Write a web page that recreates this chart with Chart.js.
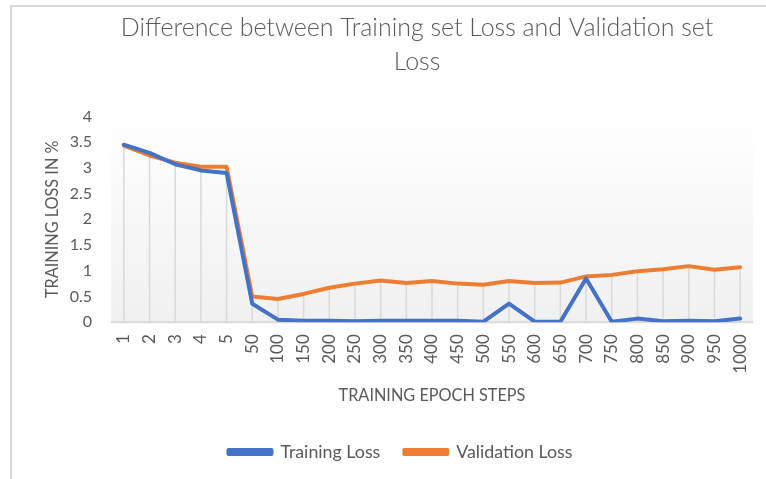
<!DOCTYPE html>
<html><head><meta charset="utf-8">
<script src="https://cdn.jsdelivr.net/npm/chart.js@4/dist/chart.umd.min.js"></script>
<style>
html,body{margin:0;padding:0;background:#fff;}
#wrap{position:relative;width:766px;height:479px;overflow:hidden;}
#frame{position:absolute;left:10px;top:5px;width:800px;height:500px;border-left:2px solid #d9d9d9;border-top:2px solid #d9d9d9;pointer-events:none;}
</style></head><body>
<div id="wrap"><canvas id="c" width="766" height="479"></canvas><div id="frame"></div></div>
<script>
const categories = ['1','2','3','4','5','50','100','150','200','250','300','350','400','450','500','550','600','650','700','750','800','850','900','950','1000'];
const trainingLoss = [3.45,3.29,3.07,2.95,2.90,0.36,0.05,0.03,0.03,0.02,0.03,0.03,0.03,0.03,0.01,0.36,0.01,0.01,0.85,0.01,0.07,0.02,0.03,0.02,0.07];
const validationLoss = [3.43,3.24,3.10,3.02,3.02,0.50,0.45,0.55,0.67,0.75,0.81,0.76,0.80,0.75,0.73,0.80,0.76,0.77,0.89,0.92,0.99,1.03,1.09,1.02,1.07];
const titleLines = ['Difference between Training set Loss and Validation set', 'Loss'];
const yTitle = 'TRAINING LOSS IN %';
const xTitle = 'TRAINING EPOCH STEPS';
const seriesNames = ['Training Loss', 'Validation Loss'];

const FONT = 'Lato';
const TXT = '#595959';

function fitSize(text, weight, target) {
  const ctx = document.createElement('canvas').getContext('2d');
  ctx.font = weight + ' 100px ' + FONT;
  return 100 * target / ctx.measureText(text).width;
}
const titleSize = fitSize(titleLines[0], '300', 593);
const axisTitleSize = fitSize(xTitle, 'normal', 187);
const legendSize = fitSize(seriesNames[0], 'normal', 100);

const bgPlugin = {
  id: 'bg',
  afterLayout(chart) {
    const t = chart.titleBlock;
    if (t) {
      const a = chart.chartArea;
      const c = (a.left + a.right) / 2 - 15;
      const half = Math.min(c - 20, 766 - 20 - c);
      t.left = c - half; t.right = c + half; t.width = 2 * half;
    }
  },
  beforeDatasetsDraw(chart) {
    const {ctx, chartArea: a} = chart;
    const g = ctx.createLinearGradient(0, a.top, 0, a.bottom);
    g.addColorStop(0, '#ffffff');
    g.addColorStop(1, '#f0f0f0');
    ctx.save();
    ctx.fillStyle = g;
    ctx.fillRect(a.left, a.top, a.right - a.left, a.bottom - a.top);
    const xs = chart.scales.x, ys = chart.scales.y;
    ctx.strokeStyle = '#d9d9d9';
    ctx.lineWidth = 1.5;
    for (let i = 0; i < categories.length; i++) {
      const x = xs.getPixelForValue(i);
      const top = ys.getPixelForValue(Math.max(trainingLoss[i], validationLoss[i]));
      ctx.beginPath();
      ctx.moveTo(x, top);
      ctx.lineTo(x, ys.getPixelForValue(0));
      ctx.stroke();
    }
    ctx.beginPath();
    ctx.lineWidth = 2;
    ctx.moveTo(a.left, ys.getPixelForValue(0));
    ctx.lineTo(a.right, ys.getPixelForValue(0));
    ctx.stroke();
    ctx.restore();
  }
};

new Chart(document.getElementById('c'), {
  type: 'line',
  data: {
    labels: categories,
    datasets: [
      {label: seriesNames[0], data: trainingLoss, borderColor: '#4472C4', backgroundColor: '#4472C4', borderWidth: 4, pointRadius: 0, tension: 0, borderCapStyle: 'round', borderJoinStyle: 'round'},
      {label: seriesNames[1], data: validationLoss, borderColor: '#ED7D31', backgroundColor: '#ED7D31', borderWidth: 4, pointRadius: 0, tension: 0, borderCapStyle: 'round', borderJoinStyle: 'round'}
    ]
  },
  options: {
    responsive: false,
    animation: false,
    events: [],
    layout: {padding: {top: 11, left: 43, right: 8, bottom: 8}},
    plugins: {
      title: {display: true, text: titleLines, color: '#595959', font: {family: FONT, size: titleSize, weight: '300', lineHeight: 1.35}, padding: {top: 0, bottom: 38}},
      legend: {position: 'bottom', labels: {color: TXT, font: {family: FONT, size: legendSize}, boxWidth: 43, boxHeight: 4, padding: 24}},
      tooltip: {enabled: false}
    },
    scales: {
      x: {
        offset: true,
        afterFit(scale) { scale.paddingRight = 13; scale.paddingLeft = 0; },
        grid: {display: false, drawTicks: false},
        border: {display: false},
        ticks: {color: TXT, font: {family: FONT, size: 17}, minRotation: 90, maxRotation: 90, autoSkip: false, padding: 12},
        title: {display: true, text: xTitle, color: TXT, font: {family: FONT, size: axisTitleSize}, padding: {top: 0, bottom: 14}}
      },
      y: {
        min: 0, max: 4,
        afterFit(scale) { scale.width = 68; },
        grid: {display: false, drawTicks: false},
        border: {display: false},
        ticks: {stepSize: 0.5, color: TXT, font: {family: FONT, size: 16}, padding: 19, callback: v => String(v)},
        title: {display: true, text: yTitle, color: TXT, font: {family: FONT, size: axisTitleSize}, padding: {top: 0, bottom: 4}}
      }
    }
  },
  plugins: [bgPlugin]
});
</script>
</body></html>
